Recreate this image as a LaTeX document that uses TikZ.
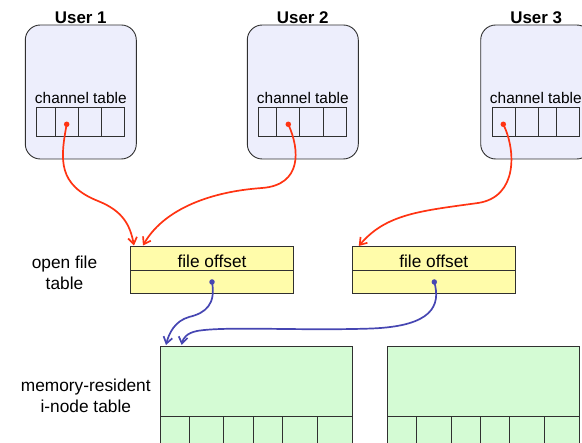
\documentclass[tikz,border=0pt]{standalone}
\usepackage{fontspec}
\setmainfont{Liberation Sans}
\usetikzlibrary{arrows.meta}
\definecolor{userfill}{HTML}{EDEEFC}
\definecolor{filefill}{HTML}{FFFCAA}
\definecolor{inodefill}{HTML}{D4FBD4}
\definecolor{redarrow}{HTML}{FF3312}
\definecolor{bluearrow}{HTML}{4646B2}
\definecolor{edgegray}{HTML}{303030}
\tikzset{
  userbox/.style={draw=edgegray, line width=0.9pt, fill=userfill, rounded corners=15pt, minimum width=111pt, minimum height=134pt, inner sep=0pt},
  cellbox/.style={draw=edgegray, line width=0.9pt, minimum height=29pt, inner sep=0pt},
  filebox/.style={draw=edgegray, line width=0.9pt, fill=filefill, minimum width=163pt, minimum height=23.6pt, inner sep=0pt},
  inodebox/.style={draw=edgegray, line width=0.9pt, fill=inodefill, minimum height=70pt, inner sep=0pt},
  inodecell/.style={draw=edgegray, line width=0.9pt, fill=inodefill, minimum height=40pt, inner sep=0pt},
  usertitle/.style={font=\fontsize{16.9}{20}\selectfont\bfseries, inner sep=0pt},
  smalltext/.style={font=\fontsize{15.4}{18}\selectfont, inner sep=0pt},
  bigtext/.style={font=\fontsize{17.3}{20.5}\selectfont, inner sep=0pt, align=center},
  redlink/.style={draw=redarrow, line width=1.7pt, -{Straight Barb[length=6.5pt,width=9pt]}},
  bluelink/.style={draw=bluearrow, line width=1.7pt, -{Straight Barb[length=6.5pt,width=9pt]}},
  dotmark/.style={circle, fill=#1, inner sep=0pt, minimum size=5.5pt}
}
\begin{document}
\begin{tikzpicture}[x=1pt,y=-1pt]
\clip (0,0) rectangle (582,443);
\useasboundingbox (0,0) rectangle (582,443);
% users
\node[userbox] (u1) at (80.8,92) {};
\node[userbox] (u2) at (302.8,92) {};
\node[userbox] (u3) at (536.2,92) {};
\node[usertitle] (t1) at (80.8,17.5) {User 1};
\node[usertitle] (t2) at (302.8,17.5) {User 2};
\node[usertitle] (t3) at (536.2,17.5) {User 3};
\node[smalltext] (ct1) at (80.8,97.7) {channel table};
\node[smalltext] (ct2) at (302.8,97.7) {channel table};
\node[smalltext] (ct3) at (535.8,97.7) {channel table};
% channel table cells
\node[cellbox, minimum width=18.3pt] (c11) at (45.85,121.5) {};
\node[cellbox, minimum width=23.3pt] (c12) at (66.65,121.5) {};
\node[cellbox, minimum width=23.4pt] (c13) at (90,121.5) {};
\node[cellbox, minimum width=23pt] (c14) at (113.2,121.5) {};
\node[cellbox, minimum width=17.6pt] (c21) at (267.5,121.5) {};
\node[cellbox, minimum width=23.4pt] (c22) at (288,121.5) {};
\node[cellbox, minimum width=23.3pt] (c23) at (311.35,121.5) {};
\node[cellbox, minimum width=23.3pt] (c24) at (334.65,121.5) {};
\node[cellbox, minimum width=23.3pt] (c31) at (503.65,121.5) {};
\node[cellbox, minimum width=23.4pt] (c32) at (527,121.5) {};
\node[cellbox, minimum width=17.6pt] (c33) at (547.5,121.5) {};
\node[cellbox, minimum width=23pt] (c34) at (567.8,121.5) {};
% open file table
\node[filebox] (f1top) at (212.2,258.5) {};
\node[filebox] (f1bot) at (212.2,281.8) {};
\node[filebox] (f2top) at (433.5,258.5) {};
\node[filebox] (f2bot) at (433.5,281.8) {};
\node[bigtext] (fo1) at (212,261.8) {file offset};
\node[bigtext] (fo2) at (433.8,261.8) {file offset};
\node[bigtext] (oft) at (64.5,272.8) {open file\\table};
% inode tables
\node[inodebox, minimum width=192pt] (i1) at (256,381) {};
\node[inodebox, minimum width=192.3pt] (i2) at (483.15,381) {};
\node[inodecell, minimum width=29pt] (i11) at (174.5,436) {};
\node[inodecell, minimum width=34.7pt] (i12) at (206.35,436) {};
\node[inodecell, minimum width=29.6pt] (i13) at (238.5,436) {};
\node[inodecell, minimum width=29pt] (i14) at (267.8,436) {};
\node[inodecell, minimum width=35pt] (i15) at (299.8,436) {};
\node[inodecell, minimum width=34.7pt] (i16) at (334.65,436) {};
\node[inodecell, minimum width=29.3pt] (i21) at (401.65,436) {};
\node[inodecell, minimum width=35pt] (i22) at (433.8,436) {};
\node[inodecell, minimum width=29pt] (i23) at (465.8,436) {};
\node[inodecell, minimum width=29.4pt] (i24) at (495,436) {};
\node[inodecell, minimum width=35pt] (i25) at (527.2,436) {};
\node[inodecell, minimum width=34.6pt] (i26) at (562,436) {};
\node[bigtext] (mrt) at (85.8,395.8) {memory-resident\\i-node table};
% dots
\node[dotmark=redarrow] (d1) at (66.7,124.3) {};
\node[dotmark=redarrow] (d2) at (288.3,124.3) {};
\node[dotmark=redarrow] (d3) at (503.3,124.3) {};
\node[dotmark=bluearrow] (d4) at (212,282) {};
\node[dotmark=bluearrow] (d5) at (434.3,282) {};
% arrow end points
\coordinate (e1) at (134,245.5);
\coordinate (e2) at (143,245.5);
\coordinate (e3) at (358.8,246);
\coordinate (e4) at (166,345);
\coordinate (e5) at (181.7,345);
% red links
\draw[redlink] (d1.center) .. controls (60,160) and (58,185) .. (98,201) .. controls (123,211) and (130,225) .. (e1);
\draw[redlink] (d2.center) .. controls (300,150) and (302,185) .. (262,188) .. controls (205,192) and (162,212) .. (e2);
\draw[redlink] (d3.center) .. controls (516,150) and (518,197) .. (478,203) .. controls (420,211) and (386,214) .. (e3);
% blue links
\draw[bluelink] (d4.center) .. controls (216,304) and (206,313) .. (189,317) .. controls (175,321) and (169,333) .. (e4);
\draw[bluelink] (d5.center) .. controls (441,306) and (432,326) .. (372,328.5) .. controls (300,331) and (225,326) .. (197,331) .. controls (187,333) and (183,338) .. (e5);
\end{tikzpicture}
\end{document}
